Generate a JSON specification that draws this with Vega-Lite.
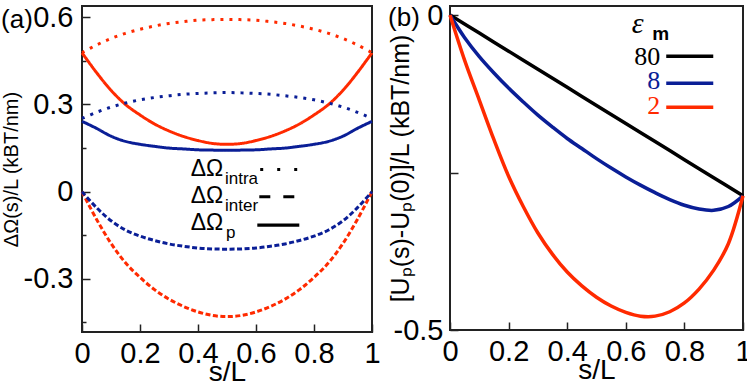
{
  "$schema": "https://vega.github.io/schema/vega-lite/v6.json",
  "background": "white",
  "padding": 0,
  "spacing": 5,
  "resolve": {"scale": {"color": "independent", "strokeDash": "independent", "strokeWidth": "independent", "x": "independent", "y": "independent"}},
  "config": {
    "view": {"stroke": "#222", "strokeWidth": 2},
    "font": "Liberation Sans",
    "axis": {"domain": false, "grid": false, "labelFlush": false, "labelFont": "Liberation Sans", "labelFontSize": 29, "labelColor": "black", "titleFont": "Liberation Sans", "titleFontWeight": "normal", "titleColor": "black", "tickColor": "#222", "tickWidth": 1.5},
    "title": {"font": "Liberation Sans", "fontSize": 26, "fontWeight": "normal", "color": "black", "anchor": "start", "frame": "bounds", "baseline": "bottom", "offset": -30}
  },
  "datasets": {
    "a": [
      {"s": 0, "v": 0.478, "comp": "intra", "eps": "2"}, {"s": 0.05, "v": 0.505, "comp": "intra", "eps": "2"}, {"s": 0.1, "v": 0.527, "comp": "intra", "eps": "2"}, {"s": 0.15, "v": 0.545, "comp": "intra", "eps": "2"}, {"s": 0.2, "v": 0.559, "comp": "intra", "eps": "2"}, {"s": 0.25, "v": 0.57, "comp": "intra", "eps": "2"}, {"s": 0.3, "v": 0.579, "comp": "intra", "eps": "2"}, {"s": 0.35, "v": 0.585, "comp": "intra", "eps": "2"}, {"s": 0.4, "v": 0.59, "comp": "intra", "eps": "2"}, {"s": 0.45, "v": 0.592, "comp": "intra", "eps": "2"}, {"s": 0.5, "v": 0.593, "comp": "intra", "eps": "2"}, {"s": 0.55, "v": 0.592, "comp": "intra", "eps": "2"}, {"s": 0.6, "v": 0.59, "comp": "intra", "eps": "2"}, {"s": 0.65, "v": 0.585, "comp": "intra", "eps": "2"}, {"s": 0.7, "v": 0.579, "comp": "intra", "eps": "2"}, {"s": 0.75, "v": 0.57, "comp": "intra", "eps": "2"}, {"s": 0.8, "v": 0.559, "comp": "intra", "eps": "2"}, {"s": 0.85, "v": 0.545, "comp": "intra", "eps": "2"}, {"s": 0.9, "v": 0.527, "comp": "intra", "eps": "2"}, {"s": 0.95, "v": 0.505, "comp": "intra", "eps": "2"}, {"s": 1, "v": 0.478, "comp": "intra", "eps": "2"},
      {"s": 0, "v": 0, "comp": "inter", "eps": "2"}, {"s": 0.05, "v": -0.095, "comp": "inter", "eps": "2"}, {"s": 0.1, "v": -0.178, "comp": "inter", "eps": "2"}, {"s": 0.15, "v": -0.245, "comp": "inter", "eps": "2"}, {"s": 0.2, "v": -0.295, "comp": "inter", "eps": "2"}, {"s": 0.25, "v": -0.337, "comp": "inter", "eps": "2"}, {"s": 0.3, "v": -0.37, "comp": "inter", "eps": "2"}, {"s": 0.35, "v": -0.395, "comp": "inter", "eps": "2"}, {"s": 0.4, "v": -0.414, "comp": "inter", "eps": "2"}, {"s": 0.45, "v": -0.426, "comp": "inter", "eps": "2"}, {"s": 0.5, "v": -0.43, "comp": "inter", "eps": "2"}, {"s": 0.55, "v": -0.426, "comp": "inter", "eps": "2"}, {"s": 0.6, "v": -0.414, "comp": "inter", "eps": "2"}, {"s": 0.65, "v": -0.395, "comp": "inter", "eps": "2"}, {"s": 0.7, "v": -0.37, "comp": "inter", "eps": "2"}, {"s": 0.75, "v": -0.337, "comp": "inter", "eps": "2"}, {"s": 0.8, "v": -0.295, "comp": "inter", "eps": "2"}, {"s": 0.85, "v": -0.245, "comp": "inter", "eps": "2"}, {"s": 0.9, "v": -0.178, "comp": "inter", "eps": "2"}, {"s": 0.95, "v": -0.095, "comp": "inter", "eps": "2"}, {"s": 1, "v": 0, "comp": "inter", "eps": "2"},
      {"s": 0, "v": 0.478, "comp": "p", "eps": "2"}, {"s": 0.05, "v": 0.41, "comp": "p", "eps": "2"}, {"s": 0.1, "v": 0.349, "comp": "p", "eps": "2"}, {"s": 0.15, "v": 0.3, "comp": "p", "eps": "2"}, {"s": 0.2, "v": 0.264, "comp": "p", "eps": "2"}, {"s": 0.25, "v": 0.233, "comp": "p", "eps": "2"}, {"s": 0.3, "v": 0.209, "comp": "p", "eps": "2"}, {"s": 0.35, "v": 0.19, "comp": "p", "eps": "2"}, {"s": 0.4, "v": 0.176, "comp": "p", "eps": "2"}, {"s": 0.45, "v": 0.166, "comp": "p", "eps": "2"}, {"s": 0.5, "v": 0.163, "comp": "p", "eps": "2"}, {"s": 0.55, "v": 0.166, "comp": "p", "eps": "2"}, {"s": 0.6, "v": 0.176, "comp": "p", "eps": "2"}, {"s": 0.65, "v": 0.19, "comp": "p", "eps": "2"}, {"s": 0.7, "v": 0.209, "comp": "p", "eps": "2"}, {"s": 0.75, "v": 0.233, "comp": "p", "eps": "2"}, {"s": 0.8, "v": 0.264, "comp": "p", "eps": "2"}, {"s": 0.85, "v": 0.3, "comp": "p", "eps": "2"}, {"s": 0.9, "v": 0.349, "comp": "p", "eps": "2"}, {"s": 0.95, "v": 0.41, "comp": "p", "eps": "2"}, {"s": 1, "v": 0.478, "comp": "p", "eps": "2"},
      {"s": 0, "v": 0.252, "comp": "intra", "eps": "8"}, {"s": 0.05, "v": 0.273, "comp": "intra", "eps": "8"}, {"s": 0.1, "v": 0.291, "comp": "intra", "eps": "8"}, {"s": 0.15, "v": 0.305, "comp": "intra", "eps": "8"}, {"s": 0.2, "v": 0.316, "comp": "intra", "eps": "8"}, {"s": 0.25, "v": 0.324, "comp": "intra", "eps": "8"}, {"s": 0.3, "v": 0.33, "comp": "intra", "eps": "8"}, {"s": 0.35, "v": 0.335, "comp": "intra", "eps": "8"}, {"s": 0.4, "v": 0.338, "comp": "intra", "eps": "8"}, {"s": 0.45, "v": 0.34, "comp": "intra", "eps": "8"}, {"s": 0.5, "v": 0.341, "comp": "intra", "eps": "8"}, {"s": 0.55, "v": 0.34, "comp": "intra", "eps": "8"}, {"s": 0.6, "v": 0.338, "comp": "intra", "eps": "8"}, {"s": 0.65, "v": 0.335, "comp": "intra", "eps": "8"}, {"s": 0.7, "v": 0.33, "comp": "intra", "eps": "8"}, {"s": 0.75, "v": 0.324, "comp": "intra", "eps": "8"}, {"s": 0.8, "v": 0.316, "comp": "intra", "eps": "8"}, {"s": 0.85, "v": 0.305, "comp": "intra", "eps": "8"}, {"s": 0.9, "v": 0.291, "comp": "intra", "eps": "8"}, {"s": 0.95, "v": 0.273, "comp": "intra", "eps": "8"}, {"s": 1, "v": 0.252, "comp": "intra", "eps": "8"},
      {"s": 0, "v": 0, "comp": "inter", "eps": "8"}, {"s": 0.05, "v": -0.055, "comp": "inter", "eps": "8"}, {"s": 0.1, "v": -0.1, "comp": "inter", "eps": "8"}, {"s": 0.15, "v": -0.132, "comp": "inter", "eps": "8"}, {"s": 0.2, "v": -0.153, "comp": "inter", "eps": "8"}, {"s": 0.25, "v": -0.168, "comp": "inter", "eps": "8"}, {"s": 0.3, "v": -0.18, "comp": "inter", "eps": "8"}, {"s": 0.35, "v": -0.188, "comp": "inter", "eps": "8"}, {"s": 0.4, "v": -0.194, "comp": "inter", "eps": "8"}, {"s": 0.45, "v": -0.197, "comp": "inter", "eps": "8"}, {"s": 0.5, "v": -0.198, "comp": "inter", "eps": "8"}, {"s": 0.55, "v": -0.197, "comp": "inter", "eps": "8"}, {"s": 0.6, "v": -0.194, "comp": "inter", "eps": "8"}, {"s": 0.65, "v": -0.188, "comp": "inter", "eps": "8"}, {"s": 0.7, "v": -0.18, "comp": "inter", "eps": "8"}, {"s": 0.75, "v": -0.168, "comp": "inter", "eps": "8"}, {"s": 0.8, "v": -0.153, "comp": "inter", "eps": "8"}, {"s": 0.85, "v": -0.132, "comp": "inter", "eps": "8"}, {"s": 0.9, "v": -0.1, "comp": "inter", "eps": "8"}, {"s": 0.95, "v": -0.055, "comp": "inter", "eps": "8"}, {"s": 1, "v": 0, "comp": "inter", "eps": "8"},
      {"s": 0, "v": 0.242, "comp": "p", "eps": "8"}, {"s": 0.05, "v": 0.218, "comp": "p", "eps": "8"}, {"s": 0.1, "v": 0.191, "comp": "p", "eps": "8"}, {"s": 0.15, "v": 0.173, "comp": "p", "eps": "8"}, {"s": 0.2, "v": 0.163, "comp": "p", "eps": "8"}, {"s": 0.25, "v": 0.156, "comp": "p", "eps": "8"}, {"s": 0.3, "v": 0.15, "comp": "p", "eps": "8"}, {"s": 0.35, "v": 0.147, "comp": "p", "eps": "8"}, {"s": 0.4, "v": 0.144, "comp": "p", "eps": "8"}, {"s": 0.45, "v": 0.143, "comp": "p", "eps": "8"}, {"s": 0.5, "v": 0.1425, "comp": "p", "eps": "8"}, {"s": 0.55, "v": 0.143, "comp": "p", "eps": "8"}, {"s": 0.6, "v": 0.144, "comp": "p", "eps": "8"}, {"s": 0.65, "v": 0.147, "comp": "p", "eps": "8"}, {"s": 0.7, "v": 0.15, "comp": "p", "eps": "8"}, {"s": 0.75, "v": 0.156, "comp": "p", "eps": "8"}, {"s": 0.8, "v": 0.163, "comp": "p", "eps": "8"}, {"s": 0.85, "v": 0.173, "comp": "p", "eps": "8"}, {"s": 0.9, "v": 0.191, "comp": "p", "eps": "8"}, {"s": 0.95, "v": 0.218, "comp": "p", "eps": "8"}, {"s": 1, "v": 0.242, "comp": "p", "eps": "8"}
    ],
    "b": [
      {"s": 0, "v": 0, "eps": "80"}, {"s": 0.1, "v": -0.0287, "eps": "80"}, {"s": 0.2, "v": -0.0574, "eps": "80"}, {"s": 0.3, "v": -0.0861, "eps": "80"}, {"s": 0.4, "v": -0.1148, "eps": "80"}, {"s": 0.5, "v": -0.1435, "eps": "80"}, {"s": 0.6, "v": -0.1722, "eps": "80"}, {"s": 0.7, "v": -0.2009, "eps": "80"}, {"s": 0.8, "v": -0.2296, "eps": "80"}, {"s": 0.9, "v": -0.2583, "eps": "80"}, {"s": 1, "v": -0.287, "eps": "80"},
      {"s": 0, "v": 0, "eps": "8"}, {"s": 0.05, "v": -0.036, "eps": "8"}, {"s": 0.1, "v": -0.066, "eps": "8"}, {"s": 0.15, "v": -0.092, "eps": "8"}, {"s": 0.2, "v": -0.116, "eps": "8"}, {"s": 0.25, "v": -0.138, "eps": "8"}, {"s": 0.3, "v": -0.159, "eps": "8"}, {"s": 0.35, "v": -0.178, "eps": "8"}, {"s": 0.4, "v": -0.196, "eps": "8"}, {"s": 0.45, "v": -0.212, "eps": "8"}, {"s": 0.5, "v": -0.228, "eps": "8"}, {"s": 0.55, "v": -0.243, "eps": "8"}, {"s": 0.6, "v": -0.257, "eps": "8"}, {"s": 0.65, "v": -0.27, "eps": "8"}, {"s": 0.7, "v": -0.282, "eps": "8"}, {"s": 0.75, "v": -0.293, "eps": "8"}, {"s": 0.8, "v": -0.302, "eps": "8"}, {"s": 0.85, "v": -0.308, "eps": "8"}, {"s": 0.9, "v": -0.31, "eps": "8"}, {"s": 0.95, "v": -0.304, "eps": "8"}, {"s": 1, "v": -0.287, "eps": "8"},
      {"s": 0, "v": 0, "eps": "2"}, {"s": 0.05, "v": -0.072, "eps": "2"}, {"s": 0.1, "v": -0.135, "eps": "2"}, {"s": 0.15, "v": -0.198, "eps": "2"}, {"s": 0.2, "v": -0.256, "eps": "2"}, {"s": 0.25, "v": -0.304, "eps": "2"}, {"s": 0.3, "v": -0.346, "eps": "2"}, {"s": 0.35, "v": -0.38, "eps": "2"}, {"s": 0.4, "v": -0.408, "eps": "2"}, {"s": 0.45, "v": -0.43, "eps": "2"}, {"s": 0.5, "v": -0.448, "eps": "2"}, {"s": 0.55, "v": -0.462, "eps": "2"}, {"s": 0.6, "v": -0.472, "eps": "2"}, {"s": 0.65, "v": -0.478, "eps": "2"}, {"s": 0.7, "v": -0.478, "eps": "2"}, {"s": 0.75, "v": -0.471, "eps": "2"}, {"s": 0.8, "v": -0.457, "eps": "2"}, {"s": 0.85, "v": -0.435, "eps": "2"}, {"s": 0.9, "v": -0.405, "eps": "2"}, {"s": 0.95, "v": -0.363, "eps": "2"}, {"s": 1, "v": -0.287, "eps": "2"}
    ]
  },
  "hconcat": [
    {
      "width": 290,
      "height": 326,
      "title": {"text": "(a)"},
      "layer": [
        {
          "data": {"name": "a"},
          "mark": {"type": "line", "interpolate": "catmull-rom", "strokeCap": "butt"},
          "encoding": {
            "x": {"field": "s", "type": "quantitative", "scale": {"domain": [0, 1], "nice": false, "zero": false},
              "axis": {"title": "s/L", "titleFontSize": 28, "titlePadding": -10, "values": [0, 0.1, 0.2, 0.3, 0.4, 0.5, 0.6, 0.7, 0.8, 0.9, 1], "labelPadding": 15,
                "labelExpr": "abs(datum.value*5 - round(datum.value*5)) < 0.001 ? '' + datum.value : ''",
                "tickSize": {"condition": {"test": "abs(datum.value*5 - round(datum.value*5)) < 0.001", "value": -8}, "value": -4}}},
            "y": {"field": "v", "type": "quantitative", "scale": {"domain": [-0.483, 0.639], "nice": false, "zero": false},
              "axis": {"title": "ΔΩ(s)/L (kBT/nm)", "titleFontSize": 20, "titlePadding": 2, "values": [-0.45, -0.3, -0.15, 0, 0.15, 0.3, 0.45, 0.6], "labelPadding": 17,
                "labelExpr": "abs(datum.value/0.3 - round(datum.value/0.3)) < 0.001 ? '' + datum.value : ''",
                "tickSize": {"condition": {"test": "abs(datum.value/0.3 - round(datum.value/0.3)) < 0.001", "value": -8}, "value": -4}}},
            "color": {"field": "eps", "type": "nominal", "scale": {"domain": ["2", "8"], "range": ["#ff2a00", "#0a1e96"]}, "legend": null},
            "strokeDash": {"field": "comp", "type": "nominal", "scale": {"domain": ["intra", "inter", "p"], "range": [[3, 6], [5, 2.5], [1, 0]]}, "legend": null},
            "strokeWidth": {"field": "comp", "type": "nominal", "scale": {"domain": ["intra", "inter", "p"], "range": [3, 3, 4]}, "legend": null}
          }
        },
        {"data": {"values": [{"t": "ΔΩ"}]}, "mark": {"type": "text", "align": "left", "baseline": "alphabetic", "fontSize": 23, "font": "Liberation Sans"},
          "encoding": {"x": {"datum": 0.3748, "type": "quantitative"}, "y": {"datum": 0.0533, "type": "quantitative"}, "text": {"field": "t"}}},
        {"data": {"values": [{"t": "ΔΩ"}]}, "mark": {"type": "text", "align": "left", "baseline": "alphabetic", "fontSize": 23, "font": "Liberation Sans"},
          "encoding": {"x": {"datum": 0.3748, "type": "quantitative"}, "y": {"datum": -0.0407, "type": "quantitative"}, "text": {"field": "t"}}},
        {"data": {"values": [{"t": "ΔΩ"}]}, "mark": {"type": "text", "align": "left", "baseline": "alphabetic", "fontSize": 23, "font": "Liberation Sans"},
          "encoding": {"x": {"datum": 0.3748, "type": "quantitative"}, "y": {"datum": -0.1327, "type": "quantitative"}, "text": {"field": "t"}}},
        {"data": {"values": [{"t": "intra"}]}, "mark": {"type": "text", "align": "left", "baseline": "alphabetic", "fontSize": 17, "font": "Liberation Sans"},
          "encoding": {"x": {"datum": 0.4931, "type": "quantitative"}, "y": {"datum": 0.0258, "type": "quantitative"}, "text": {"field": "t"}}},
        {"data": {"values": [{"t": "inter"}]}, "mark": {"type": "text", "align": "left", "baseline": "alphabetic", "fontSize": 17, "font": "Liberation Sans"},
          "encoding": {"x": {"datum": 0.4931, "type": "quantitative"}, "y": {"datum": -0.0672, "type": "quantitative"}, "text": {"field": "t"}}},
        {"data": {"values": [{"t": "p"}]}, "mark": {"type": "text", "align": "left", "baseline": "alphabetic", "fontSize": 17, "font": "Liberation Sans"},
          "encoding": {"x": {"datum": 0.4966, "type": "quantitative"}, "y": {"datum": -0.1578, "type": "quantitative"}, "text": {"field": "t"}}},
        {"data": {"values": [{"k": "intra"}]}, "mark": {"type": "rule", "color": "black", "strokeWidth": 3, "strokeDash": [3, 14], "strokeCap": "butt"},
          "encoding": {"x": {"datum": 0.6145, "type": "quantitative"}, "x2": {"datum": 0.7421}, "y": {"datum": 0.0764, "type": "quantitative"}}},
        {"data": {"values": [{"k": "inter"}]}, "mark": {"type": "rule", "color": "black", "strokeWidth": 3, "strokeDash": [11, 13], "strokeCap": "butt"},
          "encoding": {"x": {"datum": 0.6114, "type": "quantitative"}, "x2": {"datum": 0.7459}, "y": {"datum": -0.0176, "type": "quantitative"}}},
        {"data": {"values": [{"k": "p"}]}, "mark": {"type": "rule", "color": "black", "strokeWidth": 3.3, "strokeCap": "butt"},
          "encoding": {"x": {"datum": 0.6045, "type": "quantitative"}, "x2": {"datum": 0.7493}, "y": {"datum": -0.1155, "type": "quantitative"}}}
      ]
    },
    {
      "width": 293,
      "height": 324,
      "title": {"text": "(b)"},
      "layer": [
        {
          "data": {"name": "b"},
          "mark": {"type": "line", "interpolate": "catmull-rom", "strokeWidth": 3.5},
          "encoding": {
            "x": {"field": "s", "type": "quantitative", "scale": {"domain": [0, 1], "nice": false, "zero": false},
              "axis": {"title": "s/L", "titleFontSize": 28, "titlePadding": -10, "values": [0, 0.1, 0.2, 0.3, 0.4, 0.5, 0.6, 0.7, 0.8, 0.9, 1], "labelPadding": 15,
                "labelExpr": "abs(datum.value*5 - round(datum.value*5)) < 0.001 ? '' + datum.value : ''",
                "tickSize": {"condition": {"test": "abs(datum.value*5 - round(datum.value*5)) < 0.001", "value": -8}, "value": -4}}},
            "y": {"field": "v", "type": "quantitative", "scale": {"domain": [-0.5, 0.0143], "nice": false, "zero": false},
              "axis": {"title": "[Uₚ(s)-Uₚ(0)]/L (kBT/nm)", "titleFontSize": 25, "titlePadding": -20, "values": [-0.5, -0.25, 0], "labelPadding": 15, "tickSize": -8,
                "labelExpr": "datum.value == -0.25 ? '' : '' + datum.value"}},
            "color": {"field": "eps", "type": "nominal", "scale": {"domain": ["80", "8", "2"], "range": ["black", "#0a1e96", "#ff2a00"]}, "legend": null}
          }
        },
        {"data": {"values": [{"t": "ε"}]}, "mark": {"type": "text", "align": "left", "baseline": "alphabetic", "fontSize": 30, "font": "Liberation Serif", "fontStyle": "italic"},
          "encoding": {"x": {"datum": 0.62, "type": "quantitative"}, "y": {"datum": -0.029, "type": "quantitative"}, "text": {"field": "t"}}},
        {"data": {"values": [{"t": "m"}]}, "mark": {"type": "text", "align": "left", "baseline": "alphabetic", "fontSize": 19, "font": "Liberation Sans", "fontWeight": "bold"},
          "encoding": {"x": {"datum": 0.69, "type": "quantitative"}, "y": {"datum": -0.04, "type": "quantitative"}, "text": {"field": "t"}}},
        {"data": {"values": [{"t": "80"}]}, "mark": {"type": "text", "align": "right", "baseline": "alphabetic", "fontSize": 26, "font": "Liberation Serif", "color": "black"},
          "encoding": {"x": {"datum": 0.7175, "type": "quantitative"}, "y": {"datum": -0.0798, "type": "quantitative"}, "text": {"field": "t"}}},
        {"data": {"values": [{"t": "8"}]}, "mark": {"type": "text", "align": "right", "baseline": "alphabetic", "fontSize": 26, "font": "Liberation Serif", "color": "#0a1e96"},
          "encoding": {"x": {"datum": 0.7175, "type": "quantitative"}, "y": {"datum": -0.118, "type": "quantitative"}, "text": {"field": "t"}}},
        {"data": {"values": [{"t": "2"}]}, "mark": {"type": "text", "align": "right", "baseline": "alphabetic", "fontSize": 26, "font": "Liberation Serif", "color": "#ff2a00"},
          "encoding": {"x": {"datum": 0.7175, "type": "quantitative"}, "y": {"datum": -0.1575, "type": "quantitative"}, "text": {"field": "t"}}},
        {"data": {"values": [{"k": "80"}]}, "mark": {"type": "rule", "color": "black", "strokeWidth": 3.5},
          "encoding": {"x": {"datum": 0.738, "type": "quantitative"}, "x2": {"datum": 0.8985}, "y": {"datum": -0.0655, "type": "quantitative"}}},
        {"data": {"values": [{"k": "8"}]}, "mark": {"type": "rule", "color": "#0a1e96", "strokeWidth": 3.5},
          "encoding": {"x": {"datum": 0.738, "type": "quantitative"}, "x2": {"datum": 0.8985}, "y": {"datum": -0.1083, "type": "quantitative"}}},
        {"data": {"values": [{"k": "2"}]}, "mark": {"type": "rule", "color": "#ff2a00", "strokeWidth": 3.5},
          "encoding": {"x": {"datum": 0.738, "type": "quantitative"}, "x2": {"datum": 0.8985}, "y": {"datum": -0.1464, "type": "quantitative"}}}
      ]
    }
  ]
}
